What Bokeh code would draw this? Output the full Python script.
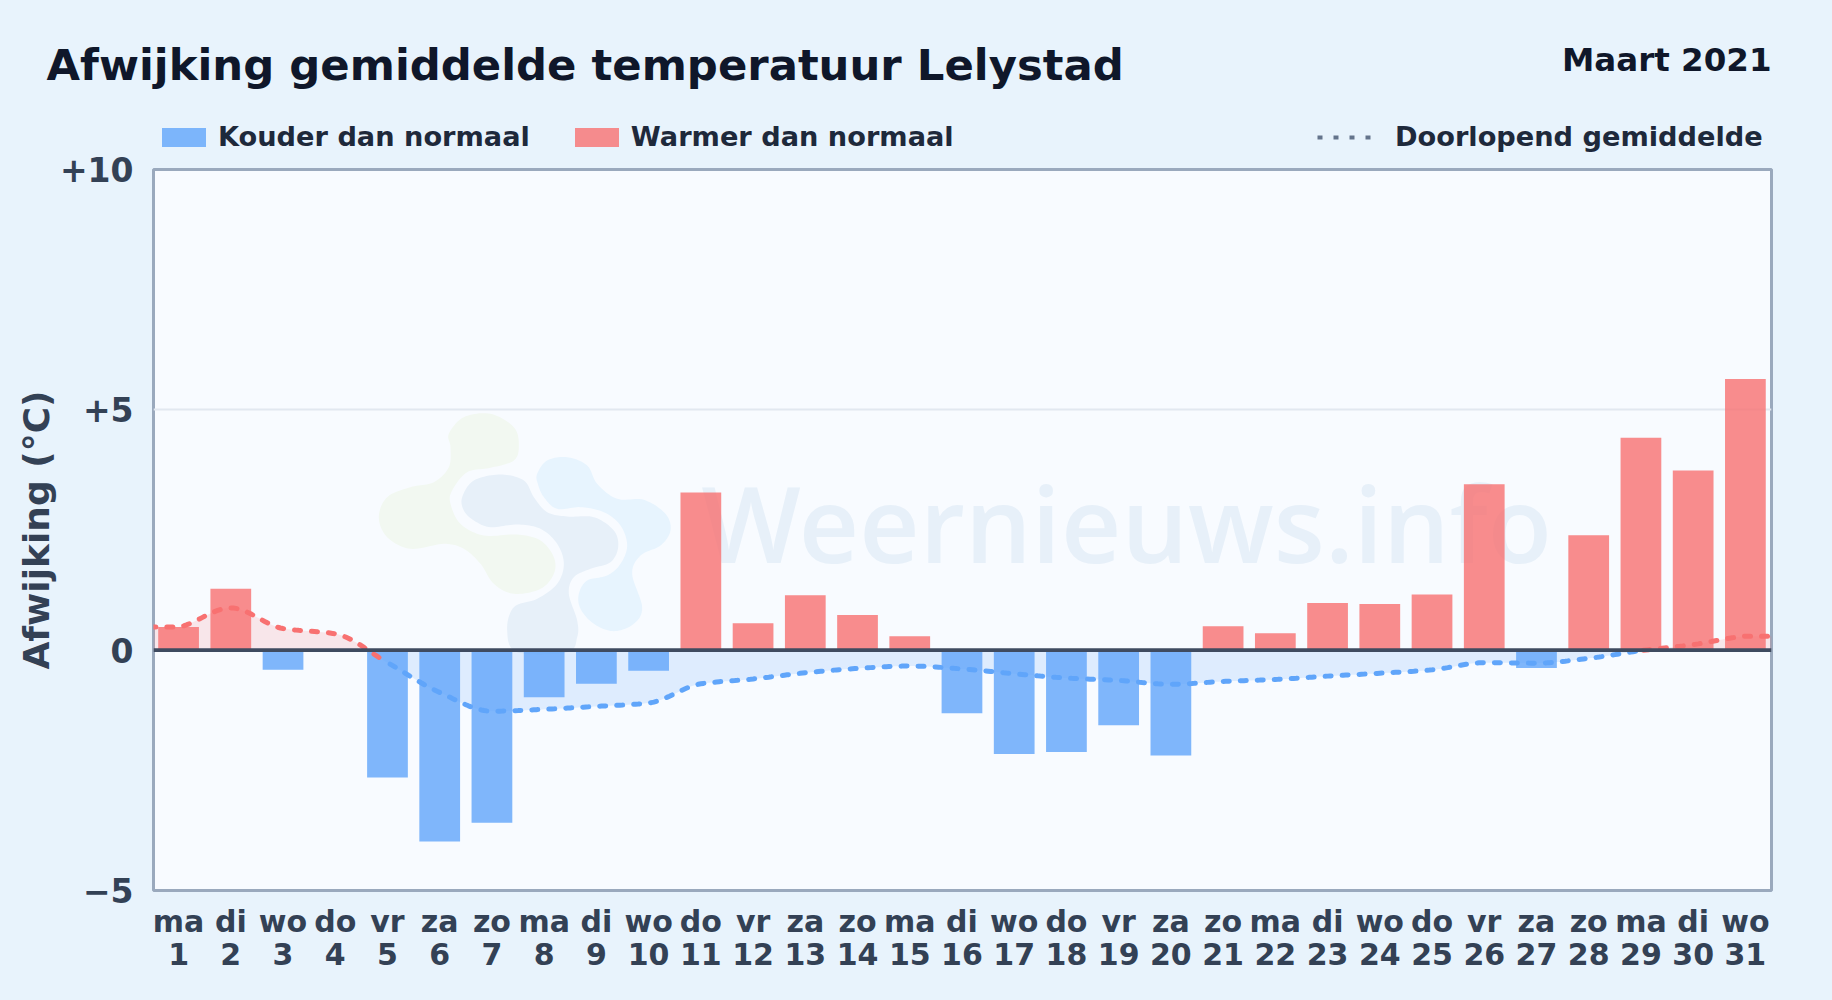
import numpy as np
from bokeh.plotting import figure
from bokeh.layouts import column
from bokeh.embed import file_html
from bokeh.resources import INLINE
from bokeh.models import (ColumnDataSource, FixedTicker, Label, Legend, LegendItem, LinearAxis, Range1d, Span)
from bokeh.core.properties import value

# ---- data
weekdays = ["ma","di","wo","do","vr","za","zo","ma","di","wo","do","vr","za","zo","ma","di","wo","do","vr","za","zo","ma","di","wo","do","vr","za","zo","ma","di","wo"]
days = list(range(1, 32))
deviation = [0.48, 1.28, -0.41, 0.0, -2.65, -3.98, -3.59, -0.98, -0.70, -0.43, 3.28, 0.56, 1.14, 0.73, 0.29,
             -1.31, -2.16, -2.12, -1.56, -2.19, 0.50, 0.35, 0.98, 0.96, 1.16, 3.45, -0.37, 2.39, 4.42, 3.74, 5.64]
running_mean = [0.48, 0.88, 0.45, 0.34, -0.26, -0.88, -1.27, -1.23, -1.17, -1.10, -0.70, -0.60, -0.47, -0.38, -0.33,
                -0.39, -0.49, -0.58, -0.63, -0.71, -0.65, -0.61, -0.54, -0.48, -0.41, -0.26, -0.27, -0.17, -0.01, 0.115, 0.29]
y_ticks = [-5, 0, 5, 10]
y_labels = {-5: "\u22125", 0: "0", 5: "+5", 10: "+10"}
title_text = "Afwijking gemiddelde temperatuur Lelystad"
month_text = "Maart 2021"
legend_cold = "Kouder dan normaal"
legend_warm = "Warmer dan normaal"
legend_mean = "Doorlopend gemiddelde"
y_title = "Afwijking (\u00b0C)"
watermark = "Weernieuws.info"

# ---- page layout (page pixels)
PAGE_W, PAGE_H = 1832, 1000
PAGE_BG = "#e8f3fc"
FRAME_L, FRAME_T, FRAME_W, FRAME_H = 153, 169, 1618, 721
HEADER_H = 152
X0, X1 = 0.52, 31.5
BLUE, RED = "#60a5fa", "#f87171"
FONT = "DejaVu Sans"

# ---- header strip: title and legend
h = figure(width=PAGE_W, height=HEADER_H, output_backend="svg", toolbar_location=None, frame_align=False,
           x_axis_type=None, y_axis_type=None, x_range=Range1d(0, PAGE_W), y_range=Range1d(HEADER_H, 0),
           min_border=0, border_fill_color=PAGE_BG, background_fill_color=PAGE_BG, outline_line_color=None)
h.grid.visible = False

def page_label(text, px, py, size, color, align="left"):
    h.add_layout(Label(x=px, y=py, text=text, text_font=FONT, text_font_style="bold", text_font_size=size,
                       text_color=color, text_align=align, text_baseline="alphabetic"))

page_label(title_text, 46, 64, "43.35px", "#0f172a")
page_label(month_text, 1771, 59, "32.5px", "#0f172a", "right")

off = [-100]
k_cold = h.vbar(off, 1, fill_color=BLUE, fill_alpha=0.8, line_color=None)
k_warm = h.vbar(off, 1, fill_color=RED, fill_alpha=0.8, line_color=None)
k_mean = h.line([-100, -90], [0, 0], line_color="#64748b", line_width=4, line_dash="5 11")
leg = dict(orientation="horizontal", background_fill_alpha=0, border_line_alpha=0, padding=0, margin=0,
           label_text_font=FONT, label_text_font_style="bold", label_text_font_size="27.2px",
           label_text_color="#1e293b", label_standoff=7, spacing=39, glyph_width=55, glyph_height=24)
h.add_layout(Legend(items=[LegendItem(label=legend_cold, renderers=[k_cold]),
                           LegendItem(label=legend_warm, renderers=[k_warm])],
                    location=(156, 0), **leg))
leg2 = dict(leg); leg2["glyph_width"] = 56; leg2["label_standoff"] = 22
h.add_layout(Legend(items=[LegendItem(label=legend_mean, renderers=[k_mean])],
                    location=(1317, 0), **leg2))

# ---- main chart
p = figure(width=PAGE_W, height=PAGE_H - HEADER_H, output_backend="svg", toolbar_location=None, frame_align=False,
           x_range=Range1d(X0, X1), y_range=Range1d(-5, 10),
           min_border_left=FRAME_L, min_border_top=FRAME_T - HEADER_H,
           min_border_right=PAGE_W - FRAME_L - FRAME_W,
           min_border_bottom=PAGE_H - FRAME_T - FRAME_H,
           border_fill_color=PAGE_BG, background_fill_color="#f8fbff",
           outline_line_color="#9aa9bd", outline_line_width=3)

def px2x(px):
    return X0 + (np.asarray(px, float) - FRAME_L) / FRAME_W * (X1 - X0)
def py2y(py):
    return 10 - (np.asarray(py, float) - FRAME_T) / FRAME_H * 15

# ---- watermark logo (outline points, smoothed)
def closed_smooth(pts, n=12):
    pts = np.array(pts, float)
    out = []
    m = len(pts)
    for i in range(m):
        a, b, c, d = pts[i - 1], pts[i], pts[(i + 1) % m], pts[(i + 2) % m]
        for t in np.linspace(0, 1, n, endpoint=False):
            out.append(0.5 * (2 * b + (c - a) * t + (2 * a - 5 * b + 4 * c - d) * t ** 2 + (3 * b - a - 3 * c + d) * t ** 3))
    out = np.array(out)
    return px2x(350 + out[:, 0] / 3), py2y(380 + out[:, 1] / 3)

logo_green = [(295,160),(340,110),(420,100),(490,140),(505,195),(490,240),(420,262),(350,275),(305,330),(300,370),(330,430),(400,465),(500,462),(570,480),(610,530),(610,580),(570,625),(490,640),(430,610),(390,550),(340,505),(280,490),(180,505),(110,470),(85,410),(110,350),(180,320),(250,305),(295,260),(300,200)]
logo_slate = [(335,350),(370,300),(450,282),(520,300),(550,350),(590,395),(650,408),(730,410),(790,450),(803,500),(780,545),(720,565),(670,590),(655,640),(680,720),(680,770),(650,815),(500,815),(470,750),(490,680),(560,655),(620,610),(640,550),(620,490),(570,445),(500,432),(420,440),(370,420),(340,390)]
logo_sky = [(560,280),(590,240),(650,230),(710,255),(740,310),(800,355),(880,358),(945,400),(960,450),(930,495),(870,525),(845,580),(875,680),(850,730),(790,752),(730,730),(690,685),(685,640),(710,600),(770,585),(810,550),(830,495),(810,435),(760,395),(690,380),(620,385),(580,350),(562,310)]
for pts, col in ((logo_green, "#f2f8f1"), (logo_slate, "#e7f0f9"), (logo_sky, "#e7f4fe")):
    lx, ly = closed_smooth(pts)
    p.patch(lx, ly, fill_color=col, line_color=None)

p.text(x=[float(px2x(701))], y=[float(py2y(564 - 42))], text=[watermark], text_font=value("Open Sans SemiBold"),
       text_font_size="105px", text_color="#e7f0f9", text_baseline="alphabetic", text_align="left")

# ---- running mean: monotone smoothing of the values for drawing only
def pchip(xq, x, y):
    x, y = np.asarray(x, float), np.asarray(y, float)
    d = np.diff(x); s = np.diff(y) / d
    m = np.zeros_like(y)
    for i in range(1, len(y) - 1):
        m[i] = 0 if s[i - 1] * s[i] <= 0 else 2 * s[i - 1] * s[i] / (s[i - 1] + s[i])
    m[0], m[-1] = s[0] * 0.5, s[-1] * 0.5
    i = np.clip(np.searchsorted(x, xq) - 1, 0, len(d) - 1)
    t = (xq - x[i]) / d[i]
    return ((2*t**3 - 3*t**2 + 1) * y[i] + (t**3 - 2*t**2 + t) * d[i] * m[i]
            + (-2*t**3 + 3*t**2) * y[i + 1] + (t**3 - t**2) * d[i] * m[i + 1])

xs = np.arange(0.45, 31.5501, 0.05)
ys = pchip(np.clip(xs, 1, 31), days, running_mean)

p.varea(xs, y1=np.zeros_like(xs), y2=np.minimum(ys, 0), fill_color=BLUE, fill_alpha=0.17)
p.varea(xs, y1=np.zeros_like(xs), y2=np.maximum(ys, 0), fill_color=RED, fill_alpha=0.15)

# ---- bars
cold = ColumnDataSource(dict(x=[d for d, v in zip(days, deviation) if v < 0], top=[v for v in deviation if v < 0]))
warm = ColumnDataSource(dict(x=[d for d, v in zip(days, deviation) if v > 0], top=[v for v in deviation if v > 0]))
p.vbar(x="x", top="top", bottom=0, width=0.78, source=cold, fill_color=BLUE, fill_alpha=0.8, line_color=None)
p.vbar(x="x", top="top", bottom=0, width=0.78, source=warm, fill_color=RED, fill_alpha=0.8, line_color=None)

dash = dict(line_width=5, line_dash="6 11", line_cap="round")
mask_a, mask_b, mask_c = xs <= 5, (xs >= 5) & (xs <= 29), xs >= 29
p.line(xs[mask_a], ys[mask_a], line_color=RED, **dash)
p.line(xs[mask_b], ys[mask_b], line_color=BLUE, **dash)
p.line(xs[mask_c], ys[mask_c], line_color=RED, **dash)

p.add_layout(Span(location=0, dimension="width", line_color="#3f4b60", line_width=3.7))

# ---- axes
p.xgrid.visible = False
p.ygrid.ticker = FixedTicker(ticks=[5])
p.ygrid.grid_line_color = "#e2e8f0"
p.ygrid.grid_line_width = 2

xa, ya = p.xaxis[0], p.yaxis[0]
xb = LinearAxis()
p.add_layout(xb, "below")
xa.ticker = FixedTicker(ticks=days)
xb.ticker = FixedTicker(ticks=days)
xa.major_label_overrides = {d: w for d, w in zip(days, weekdays)}
ya.ticker = FixedTicker(ticks=y_ticks)
ya.major_label_overrides = y_labels
for ax in (xa, xb, ya):
    ax.axis_line_color = None
    ax.major_tick_line_color = None
    ax.minor_tick_line_color = None
    ax.major_label_text_font = FONT
    ax.major_label_text_font_style = "bold"
    ax.major_label_text_color = "#334155"
    ax.major_label_text_font_size = "30px"
xa.major_label_standoff = 7
xb.major_label_standoff = -5
ya.major_label_text_font_size = "33px"
ya.major_label_standoff = 14
ya.axis_label = y_title
ya.axis_label_text_font = FONT
ya.axis_label_text_font_style = "bold"
ya.axis_label_text_font_size = "36px"
ya.axis_label_text_color = "#334155"
ya.axis_label_standoff = 0

html = file_html(column(h, p, spacing=0), INLINE, title="Afwijking gemiddelde temperatuur Lelystad")
html = html.replace("<head>", "<head><style>html,body{background:%s;}</style>" % PAGE_BG, 1)
open("out.html", "w").write(html)
